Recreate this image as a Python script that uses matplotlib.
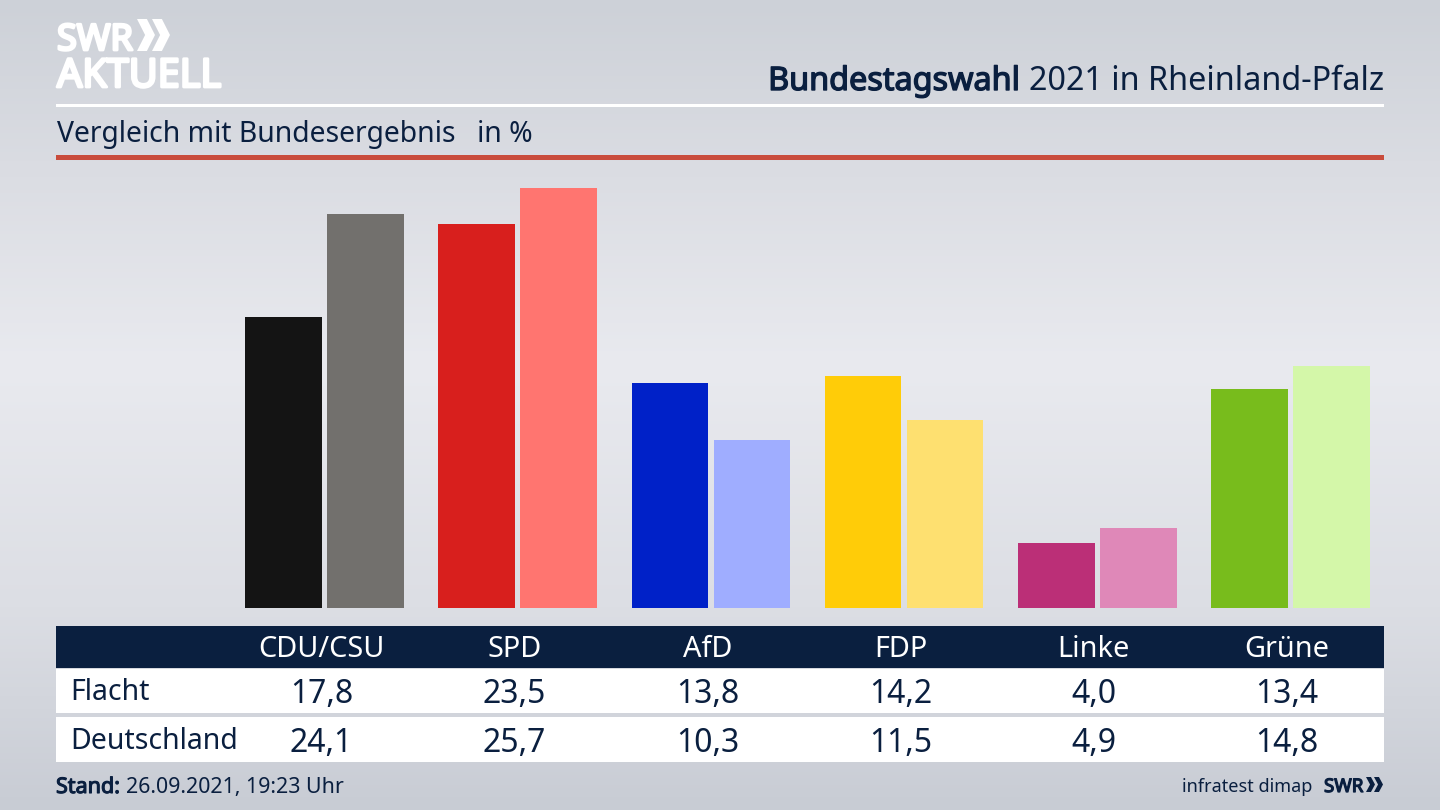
#!/usr/bin/env python3
"""Bundestagswahl 2021: Flacht vs. Bundesergebnis"""

import matplotlib
matplotlib.use('Agg')
import matplotlib.pyplot as plt
import matplotlib.patches as mpatches
import matplotlib.patheffects as pe
from matplotlib.colors import LinearSegmentedColormap
import numpy as np

parties = ['CDU/CSU', 'SPD', 'AfD', 'FDP', 'Linke', 'Grüne']
flacht = [17.8, 23.5, 13.8, 14.2, 4.0, 13.4]
deutschland = [24.1, 25.7, 10.3, 11.5, 4.9, 14.8]
row_names = ['Flacht', 'Deutschland']

colors_flacht = ['#141414', '#d81f1d', '#0021c8', '#ffcc08', '#bb2f77', '#78bc1c']
colors_deutschland = ['#72706d', '#ff7570', '#9fadff', '#fee070', '#df88b8', '#d4f7a9']

NAVY = '#0a1f3f'
FONT = 'Noto Sans'
W, H = 1440, 810

plt.rcParams['font.family'] = FONT

fig = plt.figure(figsize=(W / 100, H / 100), dpi=100)

# pixel canvas for everything around the bars
canvas = fig.add_axes([0, 0, 1, 1])
canvas.set_xlim(0, W)
canvas.set_ylim(H, 0)
canvas.axis('off')

bg = LinearSegmentedColormap.from_list(
    'bg', [(0, '#cdd1d8'), (0.2, '#dadce2'), (0.45, '#e9eaef'), (0.75, '#dcdee4'), (1, '#c8ccd4')])
canvas.imshow(np.linspace(0, 1, 256).reshape(-1, 1), cmap=bg, extent=[0, W, H, 0], aspect='auto', zorder=0)


def band(y0, y1, color):
    canvas.add_patch(mpatches.Rectangle((56, y0), 1328, y1 - y0, color=color, lw=0, zorder=1))


def chevrons(x, y, h, w, gap, color):
    # the two arrows of the SWR logo
    for k in range(2):
        x0 = x + k * gap
        t = w * 0.55
        canvas.add_patch(mpatches.Polygon(
            [(x0, y), (x0 + t, y), (x0 + w, y + h / 2), (x0 + t, y + h), (x0, y + h), (x0 + w - t, y + h / 2)],
            closed=True, color=color, lw=0, zorder=2))


def bold_text(x, y, s, color, size, stroke=1.0, **kw):
    # the installed Noto Sans has no bold face here, so thicken it with a stroke
    t = canvas.text(x, y, s, color=color, fontsize=size, zorder=2, **kw)
    t.set_path_effects([pe.withStroke(linewidth=stroke, foreground=color)])
    return t


band(104, 107, 'white')
band(155, 160, '#c94c3c')
band(626, 668, NAVY)
band(669, 713, 'white')
band(717, 762, 'white')

# logo
bold_text(57, 50, 'SWR', 'white', 26, stroke=2)
chevrons(137, 19, 32, 18, 15, 'white')
bold_text(57, 87, 'AKTUELL', 'white', 28.5, stroke=2)

# titles
canvas.text(1384, 90, '2021 in Rheinland-Pfalz', color=NAVY, fontsize=23.3, ha='right', zorder=2)
bold_text(1020, 90, 'Bundestagswahl', NAVY, 23.3, ha='right')
canvas.text(57, 142, 'Vergleich mit Bundesergebnis', color=NAVY, fontsize=20.4, zorder=2)
canvas.text(477, 142, 'in %', color=NAVY, fontsize=20.4, zorder=2)

# table
for i, party in enumerate(parties):
    cx = 321.5 + 193 * i
    canvas.text(cx, 657, party, color='white', fontsize=20.8, ha='center', zorder=2)
    for y, vals in [(703, flacht), (752, deutschland)]:
        canvas.text(cx, y, f'{vals[i]:.1f}'.replace('.', ','), color=NAVY, fontsize=23, ha='center', zorder=2)
canvas.text(70, 700, row_names[0], color=NAVY, fontsize=20.5, zorder=2)
canvas.text(70, 749, row_names[1], color=NAVY, fontsize=20.5, zorder=2)

# footer
bold_text(56, 793, 'Stand:', NAVY, 15.5, stroke=0.8)
canvas.text(126, 793, '26.09.2021, 19:23 Uhr', color=NAVY, fontsize=15.4, zorder=2)
canvas.text(1312, 792, 'infratest dimap', color=NAVY, fontsize=13, ha='right', zorder=2)
bold_text(1324, 792, 'SWR', NAVY, 13.5, stroke=0.9)
chevrons(1366, 777, 15, 9, 8, NAVY)

# bars, scale: 193.2 px per party, 16.3 px per percent point
ax = fig.add_axes([56 / W, 1 - 608 / H, 1328 / W, 448 / H])
ax.patch.set_alpha(0)
ax.set_xlim((56 - 324.5) / 193.2, (1384 - 324.5) / 193.2)
ax.set_ylim(0, 448 / 16.33)
ax.axis('off')
x = np.arange(len(parties))
ax.bar(x - 0.2124, flacht, width=0.397, color=colors_flacht, lw=0)
ax.bar(x + 0.2124, deutschland, width=0.397, color=colors_deutschland, lw=0)

fig.savefig('out.png', dpi=100)
